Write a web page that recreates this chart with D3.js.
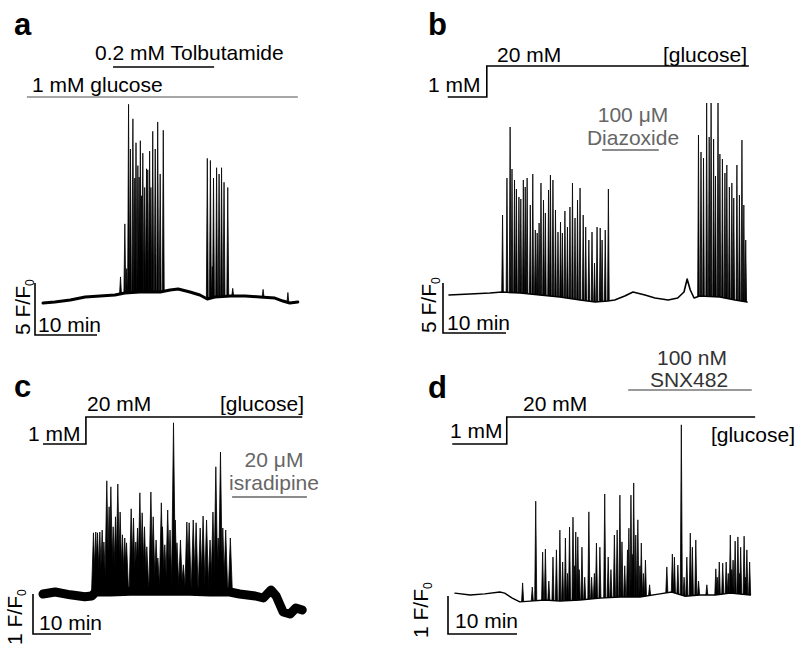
<!DOCTYPE html>
<html>
<head>
<meta charset="utf-8">
<script src="https://cdn.jsdelivr.net/npm/d3@7"></script>
<style>
  body { margin: 0; background: #fff; }
  svg { display: block; font-family: "Liberation Sans", Arial, Helvetica, sans-serif; }
</style>
</head>
<body>
<svg width="800" height="649"></svg>
<script>
// time in min from start of each trace, signal in F/F0

// ---- a: 1 mM glucose, tolbutamide ----
const aBaseT = [0, 1.9, 4.4, 6.8, 9.2, 11.6, 13.2, 15.6, 18.9, 20.5, 21.8, 23.7, 25.3, 26.5, 27.7, 30.2, 32.6, 35.0, 37.4, 38.7, 39.8, 41.1];
const aBaseV = [1.19, 1.29, 1.48, 1.77, 1.87, 1.96, 2.15, 2.25, 2.25, 2.44, 2.54, 2.25, 1.96, 1.58, 1.77, 1.87, 1.87, 1.77, 1.67, 1.38, 1.19, 1.29];
const aSpikeT = [12.5, 13.2, 13.5, 13.8, 14.1, 14.5, 14.8, 15.0, 15.3, 15.5, 15.7, 15.9, 16.1, 16.4, 16.7, 16.9, 17.2, 17.4, 17.7, 18.1, 18.5, 18.9, 19.4,
                 26.5, 27.0, 27.3, 27.5, 28.0, 28.4, 28.8, 29.2, 29.8, 30.6, 35.5, 39.5];
const aSpikeV = [3.7, 8.8, 4.5, 20.3, 16.0, 18.9, 13.2, 16.6, 14.4, 13.3, 16.8, 11.5, 15.6, 12.3, 14.1, 14.0, 15.8, 12.3, 17.7, 16.0, 18.6, 13.6, 17.8,
                 15.1, 14.9, 4.7, 13.2, 14.2, 13.6, 14.2, 12.8, 12.3, 2.6, 2.5, 2.2];
const aTolbutamide = [11.3, 27.6];
const aGlucose = [-2.6, 41.1];

// ---- b: 1 -> 20 mM glucose, diazoxide ----
const bBaseT = [0, 3.3, 6.5, 8.4, 11.3, 14.4, 17.6, 20.8, 23.2, 25.2, 26.3, 27.9, 29.2, 31.1, 32.7, 34.8, 36.3, 37.3, 37.8, 38.3, 38.9, 39.8, 43.0, 45.4, 47.3];
const bBaseV = [2.0, 2.1, 2.2, 2.3, 2.2, 2.0, 1.8, 1.5, 1.3, 1.4, 1.5, 1.9, 2.3, 2.0, 1.7, 1.5, 1.7, 2.3, 3.6, 2.5, 1.7, 1.9, 1.8, 1.5, 1.3];
const bSpikeT = [8.5, 9.2, 9.7, 10.0, 10.4, 10.7, 11.1, 11.4, 11.8, 12.1, 12.4, 12.9, 13.3, 13.7, 14.0, 14.3, 14.6, 15.0, 15.3, 15.8,
                 16.1, 16.5, 16.9, 17.3, 17.7, 18.0, 18.4, 18.8, 19.2, 19.6, 20.0, 20.4, 20.8, 21.3, 21.7, 22.2, 22.7, 23.1, 23.5, 24.0,
                 24.3, 24.8, 25.3,
                 39.6, 40.0, 40.4, 40.9, 41.3, 41.6, 42.0, 42.3, 42.7, 43.0, 43.4, 43.8, 44.1, 44.5, 44.9, 45.2, 45.7, 46.1, 46.5, 46.8, 47.1];
const bSpikeV = [10.0, 13.7, 18.8, 14.6, 13.5, 12.6, 11.8, 11.6, 13.5, 12.8, 13.7, 11.0, 14.1, 8.5, 8.2, 9.2, 13.2, 11.5, 10.2, 12.5,
                 14.0, 13.5, 10.5, 8.3, 9.3, 8.2, 10.4, 8.8, 10.8, 13.2, 9.7, 11.5, 12.7, 10.0, 8.8, 7.5, 8.3, 5.2, 8.8, 8.7,
                 7.5, 8.5, 12.6,
                 18.0, 16.3, 15.7, 21.2, 17.8, 21.2, 17.6, 13.9, 21.2, 16.1, 15.6, 14.2, 15.0, 12.8, 13.2, 11.7, 15.0, 12.0, 17.5, 11.0, 7.5];
const bGlucose = [-0.2, 6.0, 47.6];
const bDiazoxide = [24.3, 33.3];

// ---- c: 1 -> 20 mM glucose, isradipine ----
const cBaseT = [0, 2.1, 4.7, 7.2, 8.4, 9.1, 11.6, 15.0, 18.4, 21.9, 25.3, 28.8, 32.2, 33.9, 36.6, 38.0, 39.3, 40.2, 41.4, 42.6, 43.6, 44.7];
const cBaseV = [1.15, 1.2, 1.13, 1.08, 1.1, 1.2, 1.2, 1.22, 1.22, 1.22, 1.22, 1.2, 1.2, 1.15, 1.1, 1.05, 1.25, 1.1, 0.7, 0.65, 0.8, 0.75];
const cSpikeT = [8.7, 9.1, 9.4, 9.8, 10.2, 10.5, 11.0, 11.4, 11.7, 12.1, 12.5, 12.9, 13.3, 13.7, 14.1, 14.4, 15.2, 15.6, 16.0, 16.3,
                 16.7, 17.1, 17.5, 17.9, 18.6, 19.0, 19.5, 19.8, 20.4, 20.6, 21.0, 21.5, 21.9, 22.5, 22.8, 23.1, 23.7, 24.2, 24.8, 25.2,
                 25.9, 26.4, 27.1, 27.6, 28.2, 28.8, 29.3, 29.8, 30.2, 30.6, 31.0, 31.5, 32.3];
const cSpikeV = [2.68, 2.7, 2.68, 2.7, 2.75, 2.45, 3.98, 3.33, 3.83, 2.83, 3.08, 3.9, 3.2, 2.63, 2.55, 2.43, 3.28, 3.05, 2.45, 2.8,
                 3.68, 3.18, 2.83, 2.33, 3.7, 3.08, 2.5, 2.05, 3.43, 2.83, 2.38, 3.25, 2.75, 5.43, 3.0, 2.43, 2.5, 1.88, 2.95, 2.93,
                 3.0, 2.93, 2.8, 3.1, 3.0, 2.5, 3.2, 4.33, 2.55, 4.7, 2.8, 2.75, 2.55];
const cGlucose = [0, 7.4, 44.7];
const cIsradipine = [32.6, 45.5];

// ---- d: 1 -> 20 mM glucose, SNX482 ----
const dBaseT = [0, 2.2, 4.3, 6.5, 7.2, 8.3, 9.4, 10.9, 13.0, 15.2, 18.1, 21.0, 23.9, 26.8, 29.7, 31.4, 33.3, 35.5, 37.7, 39.9, 42.8];
const dBaseV = [1.18, 1.13, 1.16, 1.21, 1.18, 1.05, 0.95, 0.97, 1.0, 0.97, 1.0, 1.05, 1.08, 1.08, 1.16, 1.21, 1.1, 1.13, 1.13, 1.18, 1.13];
const dSpikeT = [9.8, 11.7, 12.7, 13.1, 14.2, 14.7, 15.2, 15.6, 16.0, 16.6, 17.1, 17.5, 17.8, 18.4, 19.4, 20.5, 21.0, 21.7, 22.2, 23.1,
                 23.5, 23.9, 24.2, 25.0, 25.2, 25.5, 25.9, 26.2, 26.5, 27.0, 27.6, 31.5, 31.8, 32.3, 32.8, 33.6, 34.1, 34.4, 34.9, 37.8,
                 38.3, 38.8, 39.3, 39.9, 40.3, 40.6, 41.0, 41.4, 41.9, 42.3, 42.7];
const dSpikeV = [1.45, 3.6, 2.26, 2.34, 2.13, 2.32, 2.84, 2.0, 2.63, 2.92, 3.18, 2.79, 2.66, 2.39, 3.32, 2.5, 2.39, 3.79, 2.13, 2.71,
                 2.84, 3.76, 2.53, 2.32, 2.89, 3.76, 4.08, 2.71, 3.11, 2.5, 2.05, 2.21, 2.13, 1.92, 5.61, 2.13, 2.76, 2.39, 2.58, 1.82,
                 2.0, 1.97, 2.0, 2.71, 2.05, 2.55, 2.66, 2.39, 2.68, 2.32, 2.0];
// small events between the big ones
const dSmallT = [11.2, 13.6, 16.3, 17.3, 18.0, 18.8, 19.8, 20.2, 22.6, 24.6, 25.7, 26.8, 27.3, 28.2, 30.7, 33.2, 35.3, 36.5, 38.0, 39.6, 40.1, 41.2, 42.1];
const dSmallV = [1.34, 1.5, 1.7, 1.9, 1.8, 1.6, 1.6, 1.7, 1.8, 1.9, 2.2, 1.9, 1.7, 1.4, 1.87, 1.6, 1.5, 1.4, 1.6, 1.7, 1.8, 1.7, 1.6];
const dGlucose = [-0.4, 7.5, 43.5];
const dSnx = [25.1, 43.0];

// layout (pixels)
const panels = [
  { name: "a", x0: 43, pxPerMin: 6.2, y1: 305, pxPerUnit: 10.4, baseWidth: 3, spikeHalf: 0.15,
    baseT: aBaseT, baseV: aBaseV, spikeT: aSpikeT, spikeV: aSpikeV,
    letter: [14, 35], bar: [35, 335], barUnits: 5, vLabel: [30, 335], minLabel: [38, 332],
    labels: [{ text: "0.2 mM Tolbutamide", x: 95, y: 60 }, { text: "1 mM glucose", x: 32, y: 92 }],
    bars: [{ t: aTolbutamide, y: 67, color: "#000" }, { t: aGlucose, y: 97, color: "#888" }] },
  { name: "b", x0: 449, pxPerMin: 6.3, y1: 305, pxPerUnit: 10, baseWidth: 1.6, spikeHalf: 0.13,
    baseT: bBaseT, baseV: bBaseV, spikeT: bSpikeT, spikeV: bSpikeV,
    letter: [428, 35], bar: [443, 333], barUnits: 5, vLabel: [436, 333], minLabel: [447, 330],
    labels: [{ text: "20 mM", x: 497, y: 62 }, { text: "[glucose]", x: 747, y: 62, anchor: "end" },
             { text: "1 mM", x: 428, y: 92 },
             { text: "100 \u03bcM", x: 633, y: 122, anchor: "middle", color: "#666" },
             { text: "Diazoxide", x: 633, y: 145, anchor: "middle", color: "#666" }],
    bars: [{ t: bDiazoxide, y: 150, color: "#666" }],
    step: { t: bGlucose, yLow: 97, yHigh: 66 } },
  { name: "c", x0: 43, pxPerMin: 5.8, y1: 600, pxPerUnit: 40, baseWidth: 9, spikeHalf: 0.35,
    baseT: cBaseT, baseV: cBaseV, spikeT: cSpikeT, spikeV: cSpikeV,
    letter: [14, 397], bar: [33, 634], barUnits: 1, vLabel: [22, 645], minLabel: [39, 630],
    labels: [{ text: "20 mM", x: 87, y: 411 }, { text: "[glucose]", x: 304, y: 411, anchor: "end" },
             { text: "1 mM", x: 28, y: 441 },
             { text: "20 \u03bcM", x: 274, y: 467, anchor: "middle", color: "#666" },
             { text: "isradipine", x: 274, y: 490, anchor: "middle", color: "#666" }],
    bars: [{ t: cIsradipine, y: 497, color: "#666" }],
    step: { t: cGlucose, yLow: 444, yHigh: 417 } },
  { name: "d", x0: 455, pxPerMin: 6.9, y1: 600, pxPerUnit: 38, baseWidth: 1.4, spikeHalf: 0.15,
    baseT: dBaseT, baseV: dBaseV, spikeT: dSpikeT.concat(dSmallT), spikeV: dSpikeV.concat(dSmallV),
    letter: [428, 398], bar: [448, 634], barUnits: 1, vLabel: [428, 638], minLabel: [455, 628],
    labels: [{ text: "100 nM", x: 692, y: 365, anchor: "middle", color: "#333" },
             { text: "SNX482", x: 689, y: 387, anchor: "middle", color: "#333" },
             { text: "20 mM", x: 523, y: 411 }, { text: "1 mM", x: 450, y: 438 },
             { text: "[glucose]", x: 795, y: 442, anchor: "end" }],
    bars: [{ t: dSnx, y: 390, color: "#777" }],
    step: { t: dGlucose, yLow: 444, yHigh: 417 } }
];

const fontSize = 21;
const svg = d3.select("svg");

function drawPanel(p) {
  const x = d3.scaleLinear().domain([0, 10]).range([p.x0, p.x0 + 10 * p.pxPerMin]);
  const y = d3.scaleLinear().domain([1, 2]).range([p.y1, p.y1 - p.pxPerUnit]);
  const g = svg.append("g").attr("class", "panel-" + p.name);

  g.append("text")
    .attr("x", p.letter[0]).attr("y", p.letter[1])
    .attr("font-size", 31).attr("font-weight", "bold")
    .text(p.name);

  g.selectAll("text.lab")
    .data(p.labels)
    .join("text")
    .attr("class", "lab")
    .attr("x", d => d.x).attr("y", d => d.y)
    .attr("text-anchor", d => d.anchor || "start")
    .attr("fill", d => d.color || "#000")
    .attr("font-size", fontSize)
    .text(d => d.text);

  // treatment bars
  g.selectAll("line.treat")
    .data(p.bars)
    .join("line")
    .attr("class", "treat")
    .attr("x1", d => x(d.t[0])).attr("x2", d => x(d.t[1]))
    .attr("y1", d => d.y).attr("y2", d => d.y)
    .attr("stroke", d => d.color)
    .attr("stroke-width", 1.6);

  // glucose step
  if (p.step) {
    const s = p.step;
    g.append("path")
      .datum([[s.t[0], s.yLow], [s.t[1], s.yLow], [s.t[1], s.yHigh], [s.t[2], s.yHigh]])
      .attr("fill", "none")
      .attr("stroke", "#000")
      .attr("stroke-width", 1.6)
      .attr("d", d3.line().x(d => x(d[0])).y(d => d[1]));
  }

  // trace: slow baseline then fast events on top of it
  const baseAt = d3.scaleLinear().domain(p.baseT).range(p.baseV).clamp(true);
  g.append("path")
    .datum(d3.zip(p.baseT, p.baseV))
    .attr("fill", "none")
    .attr("stroke", "#000")
    .attr("stroke-width", p.baseWidth)
    .attr("stroke-linejoin", "round")
    .attr("stroke-linecap", "round")
    .attr("d", d3.line().x(d => x(d[0])).y(d => y(d[1])));

  const w = p.spikeHalf;
  g.selectAll("path.spike")
    .data(d3.zip(p.spikeT, p.spikeV))
    .join("path")
    .attr("class", "spike")
    .attr("fill", "#000")
    .attr("stroke", "#000")
    .attr("stroke-width", 0.8)
    .attr("stroke-linejoin", "round")
    .attr("d", d => d3.line()([
      [x(d[0] - w), y(baseAt(d[0] - w))],
      [x(d[0]), y(d[1])],
      [x(d[0] + w), y(baseAt(d[0] + w))]
    ]));

  // scale bars
  const barH = y(1) - y(1 + p.barUnits);
  const barW = x(10) - x(0);
  g.append("path")
    .attr("fill", "none")
    .attr("stroke", "#000")
    .attr("stroke-width", 1.6)
    .attr("d", `M${p.bar[0]},${p.bar[1] - barH}V${p.bar[1]}H${p.bar[0] + barW}`);

  g.append("text")
    .attr("x", p.minLabel[0]).attr("y", p.minLabel[1])
    .attr("font-size", fontSize)
    .text("10 min");

  const vt = g.append("text")
    .attr("transform", `translate(${p.vLabel[0]},${p.vLabel[1]}) rotate(-90)`)
    .attr("font-size", fontSize);
  vt.append("tspan").text(p.barUnits + " F/F");
  vt.append("tspan").attr("font-size", 12).attr("dy", 4).text("0");
}

panels.forEach(drawPanel);
</script>
</body>
</html>
